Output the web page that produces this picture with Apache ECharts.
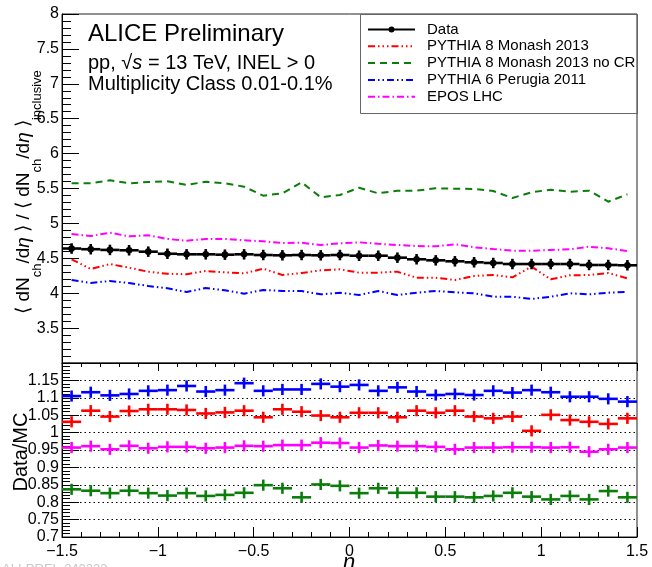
<!DOCTYPE html>
<html>
<head>
<meta charset="utf-8">
<script src="https://cdn.jsdelivr.net/npm/echarts@6/dist/echarts.min.js"></script>
<style>
  html, body { margin: 0; padding: 0; background: #fff; }
  #chart { width: 652px; height: 567px; }
</style>
</head>
<body>
<div id="chart"></div>
<script>
// pseudorapidity bin centres (bin width 0.1)
const etaCenters = [-1.45, -1.35, -1.25, -1.15, -1.05, -0.95, -0.85, -0.75, -0.65, -0.55,
                    -0.45, -0.35, -0.25, -0.15, -0.05, 0.05, 0.15, 0.25, 0.35, 0.45,
                    0.55, 0.65, 0.75, 0.85, 0.95, 1.05, 1.15, 1.25, 1.35, 1.45];

// self-normalised dNch/deta, measured
const dataVals = [4.640, 4.630, 4.620, 4.615, 4.595, 4.565, 4.557, 4.557, 4.552, 4.557,
                  4.547, 4.543, 4.547, 4.543, 4.547, 4.537, 4.537, 4.509, 4.486, 4.471,
                  4.457, 4.443, 4.433, 4.418, 4.418, 4.418, 4.418, 4.404, 4.404, 4.400];
const dataErr = [0.075, 0.075, 0.075, 0.075, 0.075, 0.075, 0.075, 0.075, 0.075, 0.075,
                 0.075, 0.075, 0.075, 0.075, 0.075, 0.075, 0.075, 0.075, 0.075, 0.075,
                 0.075, 0.075, 0.075, 0.075, 0.075, 0.075, 0.075, 0.075, 0.075, 0.075];

// generator predictions
const monash = [4.486, 4.347, 4.418, 4.365, 4.308, 4.279, 4.271, 4.318, 4.299, 4.285,
                4.351, 4.261, 4.289, 4.328, 4.342, 4.294, 4.294, 4.308, 4.222, 4.222,
                4.189, 4.246, 4.261, 4.228, 4.380, 4.199, 4.256, 4.261, 4.289, 4.213];
const monashNoCR = [5.575, 5.575, 5.617, 5.575, 5.593, 5.603, 5.550, 5.597, 5.575, 5.526,
                    5.397, 5.431, 5.589, 5.374, 5.407, 5.511, 5.431, 5.469, 5.469, 5.503,
                    5.497, 5.493, 5.464, 5.364, 5.446, 5.483, 5.454, 5.469, 5.311, 5.417];
const perugia = [4.189, 4.146, 4.175, 4.146, 4.103, 4.070, 4.017, 4.074, 4.041, 3.993,
                 4.046, 4.032, 4.032, 3.984, 4.007, 3.974, 4.032, 3.974, 4.007, 4.032,
                 4.013, 3.999, 3.950, 3.950, 3.917, 3.950, 3.999, 3.984, 4.007, 4.021];
const epos = [4.848, 4.819, 4.867, 4.815, 4.830, 4.777, 4.752, 4.777, 4.777, 4.758,
              4.744, 4.719, 4.723, 4.690, 4.715, 4.729, 4.709, 4.690, 4.676, 4.672,
              4.701, 4.658, 4.633, 4.609, 4.609, 4.619, 4.629, 4.666, 4.643, 4.605];

// Data/MC ratios
const ratioMonash = [1.031, 1.063, 1.046, 1.062, 1.067, 1.067, 1.065, 1.055, 1.058, 1.063,
                     1.044, 1.067, 1.060, 1.049, 1.044, 1.057, 1.057, 1.044, 1.063, 1.057,
                     1.063, 1.046, 1.041, 1.046, 1.005, 1.051, 1.036, 1.031, 1.025, 1.041];
const ratioNoCR = [0.837, 0.833, 0.826, 0.833, 0.826, 0.819, 0.826, 0.818, 0.821, 0.827,
                   0.849, 0.840, 0.814, 0.851, 0.847, 0.826, 0.840, 0.827, 0.827, 0.816,
                   0.816, 0.814, 0.818, 0.827, 0.816, 0.808, 0.818, 0.808, 0.832, 0.814];
const ratioPerugia = [1.105, 1.116, 1.107, 1.111, 1.120, 1.122, 1.134, 1.118, 1.122, 1.142,
                      1.120, 1.124, 1.124, 1.140, 1.132, 1.137, 1.120, 1.130, 1.118, 1.108,
                      1.111, 1.108, 1.120, 1.115, 1.122, 1.116, 1.103, 1.103, 1.097, 1.089];
const ratioEpos = [0.957, 0.961, 0.952, 0.962, 0.955, 0.959, 0.959, 0.955, 0.957, 0.962,
                   0.961, 0.964, 0.964, 0.971, 0.970, 0.957, 0.963, 0.961, 0.961, 0.959,
                   0.952, 0.957, 0.957, 0.958, 0.958, 0.957, 0.958, 0.945, 0.952, 0.957];
const ratioErr = [0.016, 0.016, 0.016, 0.016, 0.016, 0.016, 0.016, 0.016, 0.016, 0.016,
                  0.016, 0.016, 0.016, 0.016, 0.016, 0.016, 0.016, 0.016, 0.016, 0.016,
                  0.016, 0.016, 0.016, 0.016, 0.016, 0.016, 0.016, 0.016, 0.016, 0.016];

const legendNames = ['Data', 'PYTHIA 8 Monash 2013', 'PYTHIA 8 Monash 2013 no CR',
                     'PYTHIA 6 Perugia 2011', 'EPOS LHC'];

const FONT = '"Liberation Sans", Arial, Helvetica, sans-serif';
const C_RED = '#ff0000', C_GREEN = '#0b7d0b', C_BLUE = '#0000ff', C_MAG = '#ff00ff';
const DASH_RED = [7, 3, 1.5, 3, 1.5, 3, 1.5, 3];
const DASH_GREEN = [7, 5];
const DASH_BLUE = [7, 3, 1.5, 3, 1.5, 3];
const DASH_MAG = [7, 3, 1.5, 3];
const HALF_BIN = 0.05;

function fmt(v) {
  return String(parseFloat(v.toFixed(2))).replace('-', '\u2212');
}

// points with x (bin width) and y error bars
function crossSeries(name, xi, yi, values, errs, color, lw, dot) {
  return {
    type: 'custom', name: name, xAxisIndex: xi, yAxisIndex: yi,
    data: etaCenters.map((x, i) => [x, values[i], errs[i]]),
    encode: { x: 0, y: 1 },
    renderItem: function (params, api) {
      const x = api.value(0), y = api.value(1), e = api.value(2);
      const l = api.coord([x - HALF_BIN, y]);
      const r = api.coord([x + HALF_BIN, y]);
      const t = api.coord([x, y + e]);
      const b = api.coord([x, y - e]);
      const st = { stroke: color, lineWidth: lw };
      const kids = [
        { type: 'line', shape: { x1: l[0], y1: l[1], x2: r[0], y2: r[1] }, style: st },
        { type: 'line', shape: { x1: t[0], y1: t[1], x2: b[0], y2: b[1] }, style: st }
      ];
      if (dot) {
        kids.push({ type: 'circle', shape: { cx: t[0], cy: l[1], r: 3.3 }, style: { fill: color } });
      }
      return { type: 'group', children: kids };
    },
    z: 5, silent: true
  };
}

function mcLine(name, values, color, dash) {
  return {
    type: 'line', name: name, xAxisIndex: 0, yAxisIndex: 0,
    data: etaCenters.map((x, i) => [x, values[i]]),
    symbol: 'none', smooth: false,
    lineStyle: { color: color, width: 2, type: dash },
    z: 3, silent: true
  };
}

const axisBlack = { color: '#000', width: 1 };
const labelStyle = { color: '#000', fontFamily: FONT, fontSize: 16 };

// legend drawn as graphic elements (ROOT style)
const legendY = [29.5, 46.3, 63.1, 79.9, 96.7];
const legendStyles = [
  { color: '#000', dash: null, width: 2 },
  { color: C_RED, dash: DASH_RED, width: 2 },
  { color: C_GREEN, dash: DASH_GREEN, width: 2 },
  { color: C_BLUE, dash: DASH_BLUE, width: 2 },
  { color: C_MAG, dash: DASH_MAG, width: 2 }
];
const legendGraphics = [
  { type: 'rect', shape: { x: 360.5, y: 14.5, width: 277, height: 99 },
    style: { fill: null, stroke: '#666', lineWidth: 1 }, z: 10 }
];
legendNames.forEach((n, i) => {
  const s = legendStyles[i];
  legendGraphics.push({
    type: 'line', shape: { x1: 368, y1: legendY[i], x2: 415, y2: legendY[i] },
    style: { stroke: s.color, lineWidth: s.width, lineDash: s.dash }, z: 10
  });
  legendGraphics.push({
    type: 'text', x: 427, y: legendY[i],
    style: { text: n, fill: '#000', font: '15px ' + FONT, verticalAlign: 'middle', align: 'left' }, z: 10
  });
});
legendGraphics.push({ type: 'circle', shape: { cx: 391.5, cy: legendY[0], r: 3 }, style: { fill: '#000' }, z: 10 });

const chart = echarts.init(document.getElementById('chart'));
chart.setOption({
  animation: false,
  backgroundColor: '#fff',
  grid: [
    { left: 62, top: 14, width: 575, height: 349, show: true, borderColor: '#222', borderWidth: 1, backgroundColor: 'transparent' },
    { left: 62, top: 363, width: 575, height: 174, show: true, borderColor: '#222', borderWidth: 1, backgroundColor: 'transparent' }
  ],
  xAxis: [
    {
      gridIndex: 0, type: 'value', min: -1.5, max: 1.5, interval: 0.5,
      axisLine: { show: true, onZero: false, lineStyle: axisBlack },
      axisTick: { show: true, inside: false, length: 8, lineStyle: axisBlack },
      minorTick: { show: true, splitNumber: 5, length: 4, lineStyle: axisBlack },
      axisLabel: { show: false }, splitLine: { show: false }
    },
    {
      gridIndex: 1, type: 'value', min: -1.5, max: 1.5, interval: 0.5,
      axisLine: { show: true, onZero: false, lineStyle: axisBlack },
      axisTick: { show: true, inside: true, length: 10, lineStyle: axisBlack },
      minorTick: { show: true, splitNumber: 5, length: 5, lineStyle: axisBlack },
      axisLabel: Object.assign({ margin: 7, formatter: fmt }, labelStyle),
      splitLine: { show: false }
    }
  ],
  yAxis: [
    {
      gridIndex: 0, type: 'value', min: 3, max: 8, interval: 0.5,
      axisLine: { show: true, onZero: false, lineStyle: axisBlack },
      axisTick: { show: true, inside: true, length: 17, lineStyle: axisBlack },
      minorTick: { show: true, splitNumber: 5, length: 9, lineStyle: axisBlack },
      axisLabel: Object.assign({ margin: 3, formatter: fmt, showMinLabel: false }, labelStyle),
      splitLine: { show: false }
    },
    {
      gridIndex: 1, type: 'value', min: 0.7, max: 1.2, interval: 0.05,
      axisLine: { show: true, onZero: false, lineStyle: axisBlack },
      axisTick: { show: true, inside: true, length: 17, lineStyle: axisBlack },
      minorTick: { show: true, splitNumber: 5, length: 8, lineStyle: axisBlack },
      axisLabel: Object.assign({ margin: 3, formatter: fmt, showMaxLabel: false }, labelStyle),
      splitLine: { show: true, showMinLine: false, showMaxLine: false,
                   lineStyle: { color: '#000', width: 1, type: [1.5, 3] } }
    }
  ],
  series: [
    mcLine(legendNames[2], monashNoCR, C_GREEN, DASH_GREEN),
    mcLine(legendNames[4], epos, C_MAG, DASH_MAG),
    mcLine(legendNames[1], monash, C_RED, DASH_RED),
    mcLine(legendNames[3], perugia, C_BLUE, DASH_BLUE),
    crossSeries(legendNames[0], 0, 0, dataVals, dataErr, '#000', 2.6, true),
    crossSeries('Data/' + legendNames[3], 1, 1, ratioPerugia, ratioErr, C_BLUE, 2.6, false),
    crossSeries('Data/' + legendNames[1], 1, 1, ratioMonash, ratioErr, C_RED, 2.6, false),
    crossSeries('Data/' + legendNames[4], 1, 1, ratioEpos, ratioErr, C_MAG, 2.6, false),
    crossSeries('Data/' + legendNames[2], 1, 1, ratioNoCR, ratioErr, C_GREEN, 2.6, false)
  ],
  graphic: [
    { type: 'text', x: 88, y: 34,
      style: { text: 'ALICE Preliminary', fill: '#000', font: '24px ' + FONT, verticalAlign: 'middle' } },
    { type: 'text', x: 88, y: 63,
      style: { text: '{a|pp, √}{b|s}{a| = 13 TeV, INEL > 0}', verticalAlign: 'middle',
               rich: { a: { fontFamily: FONT, fontSize: 20, fill: '#000' },
                       b: { fontFamily: FONT, fontSize: 20, fontStyle: 'italic', fill: '#000' } } } },
    { type: 'text', x: 88, y: 84,
      style: { text: 'Multiplicity Class 0.01-0.1%', fill: '#000', font: '20px ' + FONT, verticalAlign: 'middle' } },
    { type: 'text', x: 29, y: 192, rotation: Math.PI / 2,
      style: {
        text: '{n|\u27E8 dN}{s|ch}{n|/d}{i|η}{n| \u27E9 / \u27E8 dN}{s|ch}{n|/d}{i|η}{n| \u27E9}{s|inclusive}',
        align: 'center', verticalAlign: 'middle',
        rich: {
          n: { fontFamily: FONT, fontSize: 19, fill: '#000', lineHeight: 19, verticalAlign: 'top' },
          i: { fontFamily: FONT, fontSize: 19, fontStyle: 'italic', fill: '#000', lineHeight: 19, verticalAlign: 'top' },
          s: { fontFamily: FONT, fontSize: 13, fill: '#000', lineHeight: 30, verticalAlign: 'bottom' }
        }
      } },
    { type: 'text', x: 21, y: 452, rotation: Math.PI / 2,
      style: { text: 'Data/MC', fill: '#000', font: '20px ' + FONT, align: 'center', verticalAlign: 'middle' } },
    { type: 'text', x: 349, y: 563,
      style: { text: 'η', fill: '#000', font: 'italic 22px ' + FONT, align: 'center', verticalAlign: 'middle' } },
    { type: 'text', x: 2, y: 569,
      style: { text: 'ALI-PREL-340333', fill: '#c8c8c8', font: '13px ' + FONT, verticalAlign: 'middle' } }
  ].concat(legendGraphics)
});
</script>
</body>
</html>
